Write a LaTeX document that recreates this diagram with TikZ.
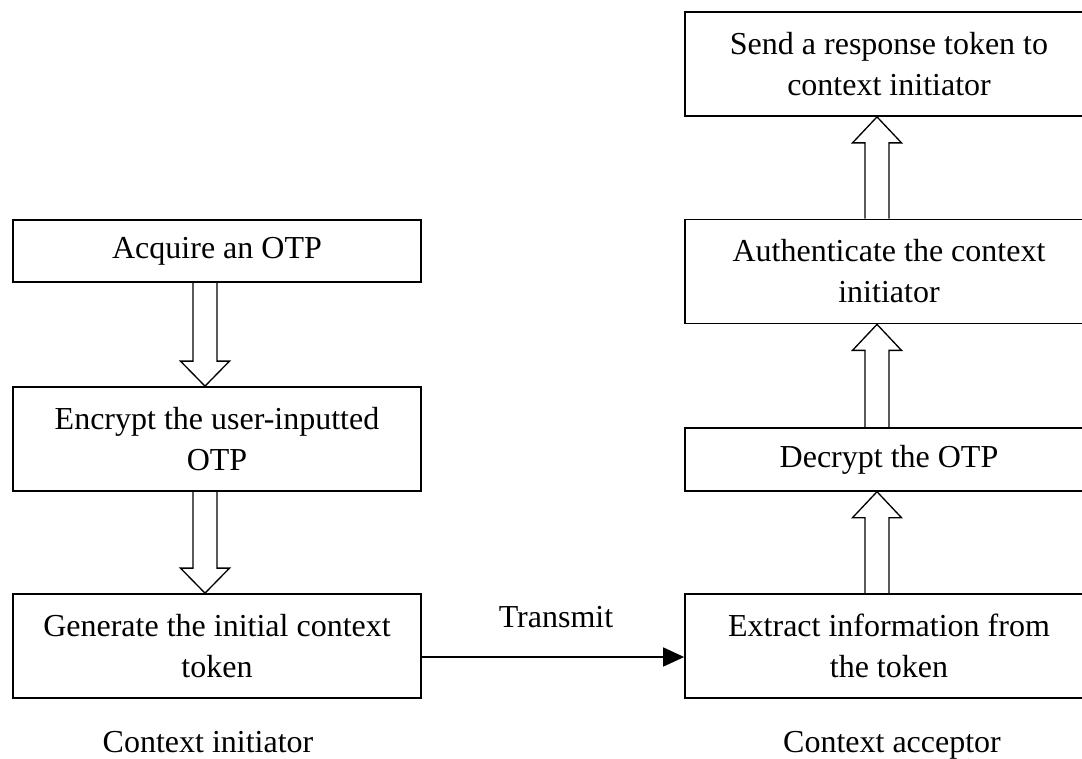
\documentclass[tikz,border=0pt]{standalone}
\usepackage{fontspec}
\setmainfont{Liberation Serif}
\usetikzlibrary{arrows.meta,calc}

% hollow block arrows between two boxes (shaft 24 units wide, head 49 wide)
\newcommand\downfat[2]{%
  \draw[fat] ($(#1.south)+(-24,0)$) -- ($(#2.north)+(-24,-25)$)
    -- ($(#2.north)+(-36.5,-25)$) -- ($(#2.north)+(-12,0)$)
    -- ($(#2.north)+(12.5,-25)$) -- ($(#2.north)+(0,-25)$)
    -- ($(#1.south)+(0,0)$);}
\newcommand\upfat[2]{%
  \draw[fat] ($(#1.north)+(-24,0)$) -- ($(#2.south)+(-24,26)$)
    -- ($(#2.south)+(-36.5,26)$) -- ($(#2.south)+(-12,0)$)
    -- ($(#2.south)+(12.5,26)$) -- ($(#2.south)+(0,26)$)
    -- ($(#1.north)+(0,0)$);}

\begin{document}
\begin{tikzpicture}[x=0.75pt,y=-0.75pt,
  txt/.style={font=\fontsize{24}{30.75}\selectfont},
  stepbox/.style={txt, draw, line width=1.3pt, minimum width=306pt,
    align=center, inner sep=0pt},
  tall/.style={minimum height=78pt},
  short/.style={minimum height=47pt},
  fat/.style={draw, line width=1pt, line join=miter},
  caption/.style={txt, inner sep=0pt, anchor=base}]

\useasboundingbox (0,0) rectangle (1082,758);
\clip (0,0) rectangle (1082,758);

% initiator side
\node[stepbox, short] (acq) at (217,251) {Acquire an OTP};
\node[stepbox, tall]  (enc) at (217,439) {Encrypt the user-inputted\\OTP};
\node[stepbox, tall]  (gen) at (217,646) {Generate the initial context\\token};

% acceptor side
\node[stepbox, tall]  (snd) at (889,64)    {Send a response token to\\context initiator};
\node[stepbox, tall]  (aut) at (889,271.5) {Authenticate the context\\initiator};
\node[stepbox, short] (dec) at (889,459.5) {Decrypt the OTP};
\node[stepbox, tall]  (ext) at (889,646)   {Extract information from\\the token};

\downfat{acq}{enc}
\downfat{enc}{gen}
\upfat{ext}{dec}
\upfat{dec}{aut}
\upfat{aut}{snd}

% token transfer
\draw[line width=1.3pt, -{Triangle[length=15.75pt,width=14.25pt]}]
  ([yshift=-8.25pt]gen.east) -- ([yshift=-8.25pt]ext.west);
\node[caption] (tx) at (556,627) {Transmit};

% column captions
\node[caption] (ci) at (208,752) {Context initiator};
\node[caption] (ca) at (892,752) {Context acceptor};
\end{tikzpicture}
\end{document}
